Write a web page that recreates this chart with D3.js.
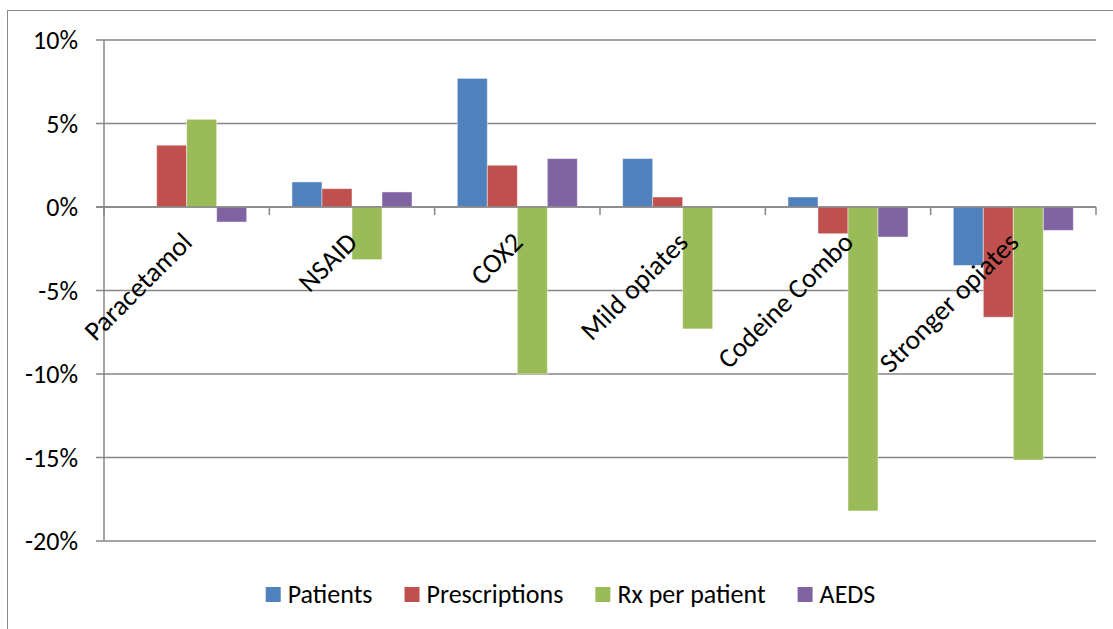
<!DOCTYPE html>
<html>
<head>
<meta charset="utf-8">
<script src="https://cdn.jsdelivr.net/npm/d3@7"></script>
<style>
  html, body { margin: 0; padding: 0; background: #fff; }
  svg { display: block; }
  text { font-family: Carlito, Lato, "Open Sans", sans-serif; fill: #000; }
</style>
</head>
<body>
<svg id="chart" width="1113" height="629"></svg>
<script>
const categories = ["Paracetamol", "NSAID", "COX2", "Mild opiates", "Codeine Combo", "Stronger opiates"];
const seriesNames = ["Patients", "Prescriptions", "Rx per patient", "AEDS"];
const patients      = [0.0, 1.5, 7.7, 2.9, 0.6, -3.5];
const prescriptions = [3.7, 1.1, 2.5, 0.6, -1.6, -6.6];
const rxPerPatient  = [5.25, -3.15, -10.0, -7.3, -18.2, -15.15];
const aeds          = [-0.9, 0.9, 2.9, 0.0, -1.8, -1.4];
const yTicks = [10, 5, 0, -5, -10, -15, -20];
const colors = ["#4F81BD", "#C0504D", "#9BBB59", "#8064A2"];

const seriesValues = [patients, prescriptions, rxPerPatient, aeds];
const data = categories.map((c, i) => ({
  cat: c,
  vals: seriesNames.map((s, j) => ({ series: s, value: seriesValues[j][i], color: colors[j] }))
}));

const svg = d3.select("#chart");
const FS = 26;
const plot = { left: 104, right: 1096, top: 40, bottom: 541 };

// outer border
svg.append("rect").attr("x", 7.5).attr("y", 10.5).attr("width", 1130).attr("height", 640)
  .attr("fill", "none").attr("stroke", "#888").attr("stroke-width", 1);

const x0 = d3.scaleBand().domain(categories).range([plot.left, plot.right]).padding(0);
const x1 = d3.scaleBand().domain(seriesNames)
  .range([x0.bandwidth() * 0.137, x0.bandwidth() * 0.863]).padding(0);
const y = d3.scaleLinear().domain([-20, 10]).range([plot.bottom, plot.top]);

// gridlines
svg.append("g").selectAll("line").data(yTicks).join("line")
  .attr("x1", plot.left - 8).attr("x2", plot.right)
  .attr("y1", d => y(d)).attr("y2", d => y(d))
  .attr("stroke", "#868686").attr("stroke-width", 1.5);

// y axis line
svg.append("line").attr("x1", plot.left).attr("x2", plot.left)
  .attr("y1", y(10)).attr("y2", y(-20))
  .attr("stroke", "#868686").attr("stroke-width", 1.5);

// y tick labels
svg.append("g").selectAll("text").data(yTicks).join("text")
  .attr("x", 78).attr("y", d => y(d)).attr("dy", "0.35em")
  .attr("text-anchor", "end").attr("font-size", FS)
  .text(d => d + "%");

// bars
const groups = svg.append("g").selectAll("g").data(data).join("g")
  .attr("transform", d => `translate(${x0(d.cat)},0)`);
groups.selectAll("rect").data(d => d.vals.filter(v => v.value !== 0)).join("rect")
  .attr("x", d => x1(d.series))
  .attr("width", x1.bandwidth())
  .attr("y", d => y(Math.max(0, d.value)))
  .attr("height", d => Math.abs(y(d.value) - y(0)))
  .attr("fill", d => d.color)
  .attr("stroke", "rgba(255,255,255,0.45)").attr("stroke-width", 1);

// category axis at zero
svg.append("line").attr("x1", plot.left - 8).attr("x2", plot.right)
  .attr("y1", y(0)).attr("y2", y(0))
  .attr("stroke", "#868686").attr("stroke-width", 1.5);
const bounds = categories.map(c => x0(c)).concat([plot.right]);
svg.append("g").selectAll("line").data(bounds).join("line")
  .attr("x1", d => d).attr("x2", d => d)
  .attr("y1", y(0)).attr("y2", y(0) + 8)
  .attr("stroke", "#868686").attr("stroke-width", 1.5);

// category labels
svg.append("g").selectAll("text").data(categories).join("text")
  .attr("transform", d => `translate(${x0(d) + x0.bandwidth() / 2 + 7},244) rotate(-45)`)
  .attr("text-anchor", "end").attr("font-size", 27.5)
  .text(d => d);

// legend
const legend = svg.append("g");
const items = legend.selectAll("g").data(seriesNames).join("g");
items.append("rect").attr("width", 15).attr("height", 15).attr("y", 587)
  .attr("fill", (d, i) => colors[i]);
items.append("text").attr("x", 22).attr("y", 603).attr("font-size", FS).text(d => d);
let cx = 0;
const widths = [];
items.each(function () {
  const w = 22 + d3.select(this).select("text").node().getComputedTextLength();
  widths.push(w);
});
const total = d3.sum(widths) + 32 * (widths.length - 1);
cx = 570.5 - total / 2;
items.each(function (d, i) {
  d3.select(this).attr("transform", `translate(${cx},0)`);
  cx += widths[i] + 32;
});
</script>
</body>
</html>
